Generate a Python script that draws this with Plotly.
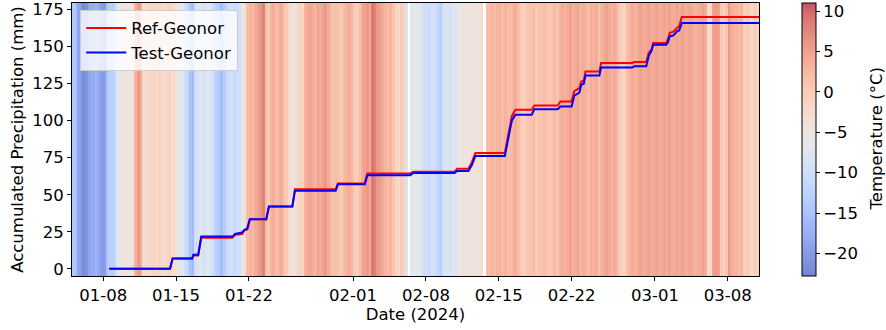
import numpy as np
import pandas as pd
import plotly.graph_objects as go

# ---------------- data ----------------
# 6-hourly air temperature (°C) starting 2024-01-05 00:00 (None = missing)
temperature_6h = [
    -14, -15, -19, -20,   # Jan 05
    -22, -21, -19, -18,   # Jan 06
    -18, -17, -19, -20,   # Jan 07
    -20, -15, -13, -13,   # Jan 08
    -12, -7, -6, -5,      # Jan 09
    -4, -6, -5, -4,       # Jan 10
    3, 6, 4, -3,          # Jan 11
    -3, -2, -2, -1,       # Jan 12
    -2, -1, -2, -3,       # Jan 13
    -2, -1, -3, -3,       # Jan 14
    -5, -6, -7, -10,      # Jan 15
    -12, -15, -16, -10,   # Jan 16
    -8, -7, -9, -8,       # Jan 17
    -7, -9, -11, -13,     # Jan 18
    -14, -16, -13, -11,   # Jan 19
    -10, -9, -11, -10,    # Jan 20
    -9, -6, -4, 2,        # Jan 21
    3, 2, 4, 5,           # Jan 22
    6, 8, 2, 0,           # Jan 23
    3, 4, 2, 3,           # Jan 24
    4, 1, 0, -3,          # Jan 25
    -4, -5, -3, -1,       # Jan 26
    -2, 3, 4, 5,          # Jan 27
    4, 3, 5, 4,           # Jan 28
    5, 6, 4, 2,           # Jan 29
    1, 2, 1, 0,           # Jan 30
    2, 3, 4, 3,           # Jan 31
    0, -1, 1, 4,          # Feb 01
    5, 6, 4, 9,           # Feb 02
    8, 6, 5, 4,           # Feb 03
    3, 2, 3, 1,           # Feb 04
    -1, -2, 0, -1,        # Feb 05
    -8, None, -7, -6,     # Feb 06
    -7, -6, -9, -10,      # Feb 07
    -10, -11, -9, -10,    # Feb 08
    -11, -13, -9, -8,     # Feb 09
    -8, -9, -7, -8,       # Feb 10
    -6, -5, -4, -5,       # Feb 11
    -5, -4, -5, -4,       # Feb 12
    -4, -3, None, 2,      # Feb 13
    2, 3, 2, 3,           # Feb 14
    3, 2, 3, 2,           # Feb 15
    2, 3, 4, 2,           # Feb 16
    0, -1, 0, 1,          # Feb 17
    1, 2, 0, 1,           # Feb 18
    1, 2, 1, 0,           # Feb 19
    1, 2, 1, 3,           # Feb 20
    4, 3, 4, 5,           # Feb 21
    3, 4, 5, 3,           # Feb 22
    4, 3, 2, 4,           # Feb 23
    3, 4, 1, 3,           # Feb 24
    4, 5, 4, 3,           # Feb 25
    4, 3, 0, -1,          # Feb 26
    -1, 2, 3, 4,          # Feb 27
    3, 4, 5, 4,           # Feb 28
    4, 5, 4, 4,           # Feb 29
    5, 4, 4, 5,           # Mar 01
    4, 5, 4, 4,           # Mar 02
    5, 4, 5, 4,           # Mar 03
    4, 5, 4, 3,           # Mar 04
    4, 4, 5, 4,           # Mar 05
    -3, -2, 5, 6,         # Mar 06
    5, 0, -1, 1,          # Mar 07
    6, 4, 3, 3,           # Mar 08
    2, 3, -1, 0,          # Mar 09
    -1, -2, 0, -1,        # Mar 10
]

precip_times = [
    "2024-01-08 14:00", "2024-01-14 10:00", "2024-01-14 16:00", "2024-01-16 13:00",
    "2024-01-16 16:00", "2024-01-17 03:00", "2024-01-17 10:00", "2024-01-20 10:00",
    "2024-01-20 16:00", "2024-01-21 08:00", "2024-01-21 14:00", "2024-01-21 20:00",
    "2024-01-22 02:00", "2024-01-23 16:00", "2024-01-23 22:00", "2024-01-26 04:00",
    "2024-01-26 10:00", "2024-01-30 08:00", "2024-01-30 13:00", "2024-02-02 03:00",
    "2024-02-02 09:00", "2024-02-06 12:00", "2024-02-06 18:00", "2024-02-10 18:00",
    "2024-02-11 00:00", "2024-02-12 02:00", "2024-02-12 10:00", "2024-02-12 18:00",
    "2024-02-15 14:00", "2024-02-15 22:00", "2024-02-16 06:00", "2024-02-16 14:00",
    "2024-02-18 04:00", "2024-02-18 10:00", "2024-02-20 16:00", "2024-02-20 22:00",
    "2024-02-22 00:00", "2024-02-22 06:00", "2024-02-22 18:00", "2024-02-22 22:00",
    "2024-02-23 04:00", "2024-02-23 08:00", "2024-02-24 16:00", "2024-02-24 20:00",
    "2024-02-27 20:00", "2024-02-28 00:00", "2024-02-29 04:00", "2024-02-29 10:00",
    "2024-02-29 16:00", "2024-02-29 20:00", "2024-03-02 02:00", "2024-03-02 06:00",
    "2024-03-02 10:00", "2024-03-02 18:00", "2024-03-03 03:00", "2024-03-03 08:00",
    "2024-03-03 14:00", "2024-03-11 00:00",
]
ref_geonor = [
    0, 0, 7, 7, 9, 9, 21, 21, 23, 23.5, 26, 26.5, 33.5, 33.5, 42, 42,
    53.7, 53.7, 57.5, 57.5, 64.3, 64.3, 65.6, 65.6, 67.5, 67.5, 72, 78.1,
    78.1, 90, 103, 107.4, 107.4, 110.3, 110.3, 113, 113, 120, 122, 126.5,
    127, 133.3, 133.3, 139, 139, 139.6, 139.6, 146, 148, 152.5, 152.5, 155,
    159.3, 160, 162.6, 164, 170, 170,
]
test_geonor = [
    0, 0, 7, 7, 9.5, 9.5, 21.7, 21.7, 23.5, 24.5, 26.5, 27, 33.4, 33.4, 42, 42,
    52.6, 52.6, 57, 57, 63.2, 63.2, 64.6, 64.6, 66.1, 66.1, 70, 76.2,
    76.2, 88, 100, 104, 104, 107.8, 107.8, 109.6, 109.6, 117, 119, 124.3,
    125, 130.6, 130.6, 136, 136, 136.7, 136.7, 144, 147, 151.3, 151.3, 153,
    157, 157.5, 160.4, 161, 166, 166,
]

x_tick_dates = ["2024-01-08", "2024-01-15", "2024-01-22", "2024-02-01", "2024-02-08",
                "2024-02-15", "2024-02-22", "2024-03-01", "2024-03-08"]
x_tick_labels = ["01-08", "01-15", "01-22", "02-01", "02-08", "02-15", "02-22", "03-01", "03-08"]
y_ticks = [0, 25, 50, 75, 100, 125, 150, 175]
cbar_ticks = [10, 5, 0, -5, -10, -15, -20]

temp_min, temp_max = -22.8, 11.0

# ---------------- coolwarm colormap (alpha 0.7 over white) ----------------
coolwarm = [
    (59, 76, 192), (68, 90, 204), (77, 104, 215), (87, 117, 225), (98, 130, 234),
    (108, 142, 241), (119, 154, 247), (130, 165, 251), (141, 176, 254), (152, 185, 255),
    (163, 194, 255), (174, 201, 253), (184, 208, 249), (194, 213, 244), (204, 217, 238),
    (213, 219, 230), (221, 221, 221), (229, 216, 209), (236, 211, 197), (241, 204, 185),
    (245, 196, 173), (247, 187, 160), (247, 177, 148), (247, 166, 135), (244, 154, 123),
    (241, 141, 111), (236, 127, 99), (229, 112, 88), (222, 96, 77), (213, 80, 66),
    (203, 62, 56), (192, 40, 47), (180, 4, 38),
]
alpha = 0.7
colorscale = []
n = len(coolwarm)
for i, (r, g, b) in enumerate(coolwarm):
    rr = round(alpha * r + (1 - alpha) * 255)
    gg = round(alpha * g + (1 - alpha) * 255)
    bb = round(alpha * b + (1 - alpha) * 255)
    colorscale.append([i / (n - 1), f"rgb({rr},{gg},{bb})"])

# ---------------- figure ----------------
FONT = "DejaVu Sans"
FS = 16.5
L, R, T, B = 72, 127, 3, 54
W, H = 886, 330
plot_w = W - L - R

temp_times = pd.date_range("2024-01-05 03:00", periods=len(temperature_6h), freq="6h")
z = np.array([[np.nan if v is None else v for v in temperature_6h]] * 2, dtype=float)

fig = go.Figure()
fig.add_trace(go.Heatmap(
    x=temp_times, y=[-20, 200], z=z,
    colorscale=colorscale, zmin=temp_min, zmax=temp_max,
    showscale=True, hoverinfo="skip",
    colorbar=dict(
        thickness=14, thicknessmode="pixels", len=1, lenmode="fraction",
        x=(802 - L) / plot_w, xanchor="left", y=0.5, yanchor="middle",
        outlinecolor="black", outlinewidth=1,
        tickvals=cbar_ticks, ticks="outside", ticklen=4, tickcolor="black",
        tickfont=dict(size=FS, color="black", family=FONT),
        xpad=0, ypad=0,
    ),
))
fig.add_trace(go.Scatter(
    x=precip_times, y=ref_geonor, mode="lines", name="Ref-Geonor",
    line=dict(color="#ff0000", width=2),
))
fig.add_trace(go.Scatter(
    x=precip_times, y=test_geonor, mode="lines", name="Test-Geonor",
    line=dict(color="#0000ff", width=2),
))

axis_common = dict(showline=True, linecolor="black", linewidth=1, mirror=True,
                   ticks="outside", ticklen=4, tickcolor="black", showgrid=False,
                   zeroline=False,
                   tickfont=dict(size=FS, color="black", family=FONT))

fig.update_layout(
    width=W, height=H,
    margin=dict(l=L, r=R, t=T, b=B, autoexpand=False),
    paper_bgcolor="white", plot_bgcolor="white",
    font=dict(family=FONT, size=FS, color="black"),
    legend=dict(x=0.012, y=0.975, xanchor="left", yanchor="top",
                bgcolor="rgba(255,255,255,0.8)", bordercolor="#cccccc", borderwidth=1,
                font=dict(size=FS, color="black", family=FONT),
                tracegroupgap=0, itemwidth=40),
    xaxis=dict(range=["2024-01-05", "2024-03-11"], tickvals=x_tick_dates,
               ticktext=x_tick_labels,
               title=dict(text="Date (2024)", standoff=4,
                          font=dict(size=FS, family=FONT)),
               **axis_common),
    yaxis=dict(range=[-4.9, 179.5], tickvals=y_ticks,
               title=dict(text="Accumulated Precipitation (mm)", standoff=4,
                          font=dict(size=FS, family=FONT)),
               **axis_common),
    annotations=[dict(
        text="Temperature (°C)", xref="paper", yref="paper",
        x=(876 - L) / plot_w, y=0.5, xanchor="center", yanchor="middle",
        textangle=-90, showarrow=False,
        font=dict(size=FS, color="black", family=FONT),
    )],
)

fig.write_html("out.html",
               config={"displayModeBar": False},
               post_script="document.body.style.margin='0px';document.body.style.padding='0px';")
